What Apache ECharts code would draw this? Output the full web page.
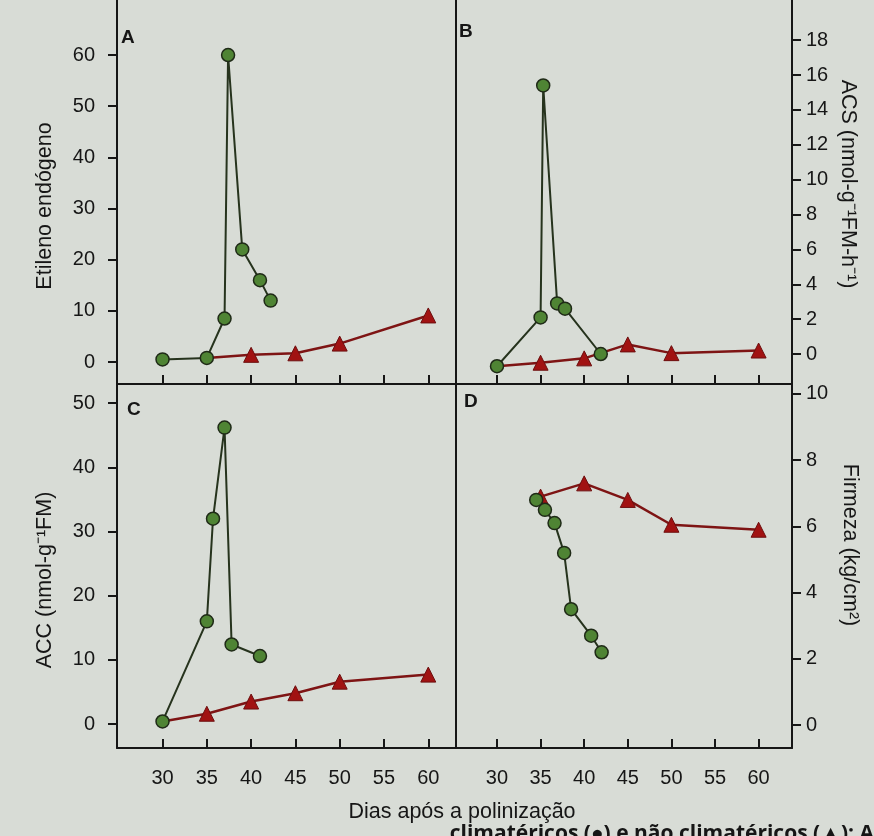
<!DOCTYPE html>
<html>
<head>
<meta charset="utf-8">
<script src="https://cdn.jsdelivr.net/npm/echarts@6.0.0/dist/echarts.min.js"></script>
<style>
  html, body { margin: 0; padding: 0; background: #d8dcd6; }
  #main { width: 874px; height: 836px; }
</style>
</head>
<body>
<div id="main"></div>
<script>
// dias após a polinização (ticks)
var dayTicks = [30, 35, 40, 45, 50, 55, 60];
var etilenoTicks = [0, 10, 20, 30, 40, 50, 60];
var acsTicks = [0, 2, 4, 6, 8, 10, 12, 14, 16, 18];
var accTicks = [0, 10, 20, 30, 40, 50];
var firmezaTicks = [0, 2, 4, 6, 8, 10];

// A - etileno endógeno
var aClimDays = [30, 35, 37, 37.4, 39, 41, 42.2];
var aClimVals = [0.5, 0.8, 8.5, 60, 22, 16, 12];
var aNaoDays = [35, 40, 45, 50, 60];
var aNaoVals = [0.8, 1.4, 1.7, 3.6, 9.1];

// B - ACS
var bClimDays = [30, 35, 35.3, 36.9, 37.8, 41.9];
var bClimVals = [-0.7, 2.1, 15.4, 2.9, 2.6, 0];
var bNaoDays = [30, 35, 40, 45, 50, 60];
var bNaoVals = [-0.7, -0.5, -0.25, 0.55, 0.05, 0.2];

// C - ACC
var cClimDays = [30, 35, 35.7, 37, 37.8, 41];
var cClimVals = [0.4, 16, 32, 46.2, 12.4, 10.6];
var cNaoDays = [30, 35, 40, 45, 50, 60];
var cNaoVals = [0.4, 1.6, 3.5, 4.8, 6.6, 7.7];

// D - firmeza
var dClimDays = [34.5, 35.5, 36.6, 37.7, 38.5, 40.8, 42];
var dClimVals = [6.8, 6.5, 6.1, 5.2, 3.5, 2.7, 2.2];
var dNaoDays = [35, 40, 45, 50, 60];
var dNaoVals = [6.9, 7.3, 6.8, 6.05, 5.9];

var chart = echarts.init(document.getElementById('main'));

var ink = '#161616';
var fontFam = '"Liberation Sans", Arial, sans-serif';

function pairs(xs, ys, hideFirst) {
    return xs.map(function (x, i) {
        if (hideFirst && i === 0) return { value: [x, ys[i]], symbol: 'none' };
        return [x, ys[i]];
    });
}

function xAxis(grid, min, max, labels) {
    return {
        type: 'value', gridIndex: grid, min: min, max: max,
        axisLine: { show: true, onZero: false, lineStyle: { color: ink, width: 2 } },
        axisTick: { show: true, inside: true, length: 9, customValues: dayTicks, lineStyle: { color: ink, width: 2 } },
        axisLabel: { show: labels, customValues: dayTicks, margin: 20, color: ink, fontSize: 20, fontFamily: fontFam },
        splitLine: { show: false }
    };
}

function yAxis(grid, pos, min, max, ticks, margin) {
    return {
        type: 'value', gridIndex: grid, position: pos, min: min, max: max,
        axisLine: { show: true, onZero: false, lineStyle: { color: ink, width: 2 } },
        axisTick: { show: true, inside: false, length: 9, customValues: ticks, lineStyle: { color: ink, width: 2 } },
        axisLabel: { customValues: ticks, margin: margin, color: ink, fontSize: 20, fontFamily: fontFam },
        splitLine: { show: false }
    };
}

// plain vertical line between the panels
function divider(grid) {
    return {
        type: 'value', gridIndex: grid, position: 'left', min: 0, max: 1,
        axisLine: { show: true, onZero: false, lineStyle: { color: ink, width: 2 } },
        axisTick: { show: false }, axisLabel: { show: false }, splitLine: { show: false }
    };
}

function climSeries(x, data) {
    return {
        type: 'line', xAxisIndex: x, yAxisIndex: x, data: data, z: 3,
        symbol: 'circle', symbolSize: 13,
        lineStyle: { color: '#26331d', width: 2 },
        itemStyle: { color: '#4f8434', borderColor: '#1f2a17', borderWidth: 1.5 }
    };
}

function naoSeries(x, data) {
    return {
        type: 'line', xAxisIndex: x, yAxisIndex: x, data: data, z: 2,
        symbol: 'triangle', symbolSize: 15,
        lineStyle: { color: '#7e1414', width: 2.5 },
        itemStyle: { color: '#a11212', borderColor: '#6d0f0f', borderWidth: 1 }
    };
}

function panelText(x, y, txt) {
    return { type: 'text', x: x, y: y, z: 10,
        style: { text: txt, font: 'bold 19px ' + fontFam, fill: ink } };
}

function axisTitle(x, y, txt, rot) {
    return { type: 'text', x: x, y: y, rotation: rot, z: 10,
        style: { text: txt, font: '21.5px ' + fontFam, fill: ink, align: 'center', verticalAlign: 'middle' } };
}

var option = {
    backgroundColor: '#d8dcd6',
    animation: false,
    grid: [
        { left: 117, top: 0, width: 339, height: 384 },
        { left: 456, top: 0, width: 336, height: 384 },
        { left: 117, top: 384, width: 339, height: 364 },
        { left: 456, top: 384, width: 336, height: 364 }
    ],
    xAxis: [
        xAxis(0, 24.86, 63.13, false),
        xAxis(1, 25.3, 63.83, false),
        xAxis(2, 24.86, 63.13, true),
        xAxis(3, 25.3, 63.83, true)
    ],
    yAxis: [
        yAxis(0, 'left', -4.3, 70.75, etilenoTicks, 22),
        yAxis(1, 'right', -1.72, 20.3, acsTicks, 14),
        yAxis(2, 'left', -3.74, 53.0, accTicks, 22),
        yAxis(3, 'right', -0.69, 10.3, firmezaTicks, 14),
        divider(1),
        divider(3)
    ],
    series: [
        naoSeries(0, pairs(aNaoDays, aNaoVals, true)),
        climSeries(0, pairs(aClimDays, aClimVals)),
        naoSeries(1, pairs(bNaoDays, bNaoVals, true)),
        climSeries(1, pairs(bClimDays, bClimVals)),
        naoSeries(2, pairs(cNaoDays, cNaoVals, true)),
        climSeries(2, pairs(cClimDays, cClimVals)),
        naoSeries(3, pairs(dNaoDays, dNaoVals, false)),
        climSeries(3, pairs(dClimDays, dClimVals))
    ],
    graphic: [
        panelText(121, 28, 'A'),
        panelText(459, 22, 'B'),
        panelText(127, 400, 'C'),
        panelText(464, 392, 'D'),
        axisTitle(45, 206, 'Etileno endógeno', Math.PI / 2),
        axisTitle(45, 580, 'ACC (nmol-g⁻¹FM)', Math.PI / 2),
        axisTitle(848, 184, 'ACS (nmol-g⁻¹FM-h⁻¹)', -Math.PI / 2),
        axisTitle(850, 545, 'Firmeza (kg/cm²)', -Math.PI / 2),
        { type: 'text', x: 462, y: 812, z: 10,
          style: { text: 'Dias após a polinização', font: '21.5px ' + fontFam, fill: ink, align: 'center', verticalAlign: 'middle' } },
        { type: 'text', x: 874, y: 824, z: 10,
          style: { text: 'climatéricos (●) e não climatéricos (▲): A', font: 'bold 21px "Open Sans", ' + fontFam, fill: ink, align: 'right', verticalAlign: 'top' } }
    ]
};

option && chart.setOption(option);
</script>
</body>
</html>
